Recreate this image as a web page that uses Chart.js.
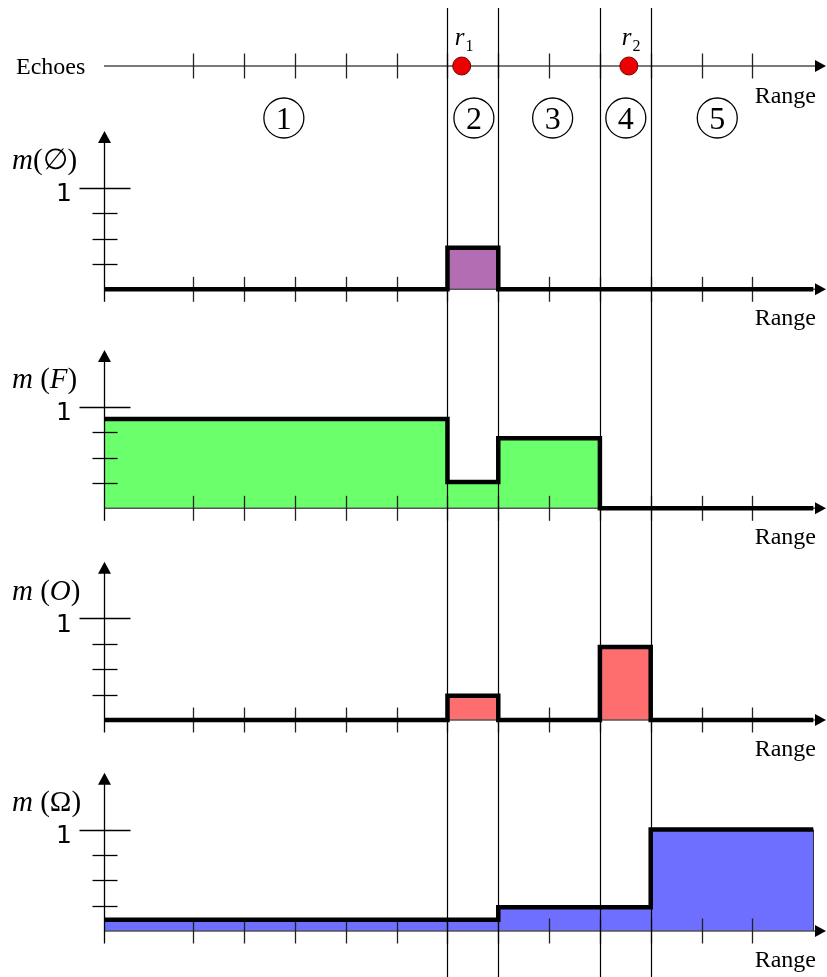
<!DOCTYPE html>
<html>
<head>
<meta charset="utf-8">
<script src="https://cdn.jsdelivr.net/npm/chart.js@4.4.1/dist/chart.umd.min.js"></script>
<style>
  html, body { margin: 0; padding: 0; background: #fff; }
  canvas { display: block; }
</style>
</head>
<body>
<canvas id="rangeChart" width="827" height="977"></canvas>
<script>
// Range axis (tick units). First edge is the origin, last edge is where the masses stop
const regionEdges = [0.24, 7, 8, 10, 11, 14.2];
const xTicks = [2, 3, 4, 5, 6, 7, 8, 9, 10, 11, 12, 13];
const regionLabels = ['1', '2', '3', '4', '5'];
const regionCentres = [3.78, 7.52, 9.07, 10.51, 12.31];
const echoNames = ['1', '2'];
const echoRanges = [7.28, 10.57];

// Mass of each hypothesis, one value per region
const massEmpty = [0, 0.41, 0, 0, 0];
const massF = [0.88, 0.26, 0.69, 0, 0];
const massO = [0, 0.24, 0, 0.72, 0];
const massOmega = [0.11, 0.11, 0.235, 0.235, 1.0];
const yTicks = [0.25, 0.5, 0.75, 1];

const H = 977;
const UNIT = 101.5;      // px per unit of mass
const Y_TOP = 1.56;      // where the y arrows stop
const SERIF = '"Liberation Serif", "DejaVu Serif", serif';

const panels = [
  { axis: 'yEmpty', base: 289.3, mass: massEmpty, colour: '#b36eb3',
    label: [{ t: 'm', it: true }, { t: '(∅)' }] },
  { axis: 'yF', base: 508.3, mass: massF, colour: '#6cff6c',
    label: [{ t: 'm', it: true }, { t: ' (' }, { t: 'F', it: true }, { t: ')' }] },
  { axis: 'yO', base: 720, mass: massO, colour: '#ff6e6e',
    label: [{ t: 'm', it: true }, { t: ' (' }, { t: 'O', it: true }, { t: ')' }] },
  { axis: 'yOmega', base: 931, mass: massOmega, colour: '#6e6eff',
    label: [{ t: 'm', it: true }, { t: ' (Ω)' }] }
];

// every panel gets its own y scale over the full height, shifted so 0 sits on its baseline
function yScale(base, unit) {
  const min = -(H - base) / unit;
  return { type: 'linear', display: false, min: min, max: min + H / unit };
}

function stepPoints(mass) {
  const pts = mass.map((m, i) => ({ x: regionEdges[i], y: m }));
  pts.push({ x: regionEdges[regionEdges.length - 1], y: mass[mass.length - 1] });
  return pts;
}

function line(ctx, x1, y1, x2, y2) {
  ctx.beginPath(); ctx.moveTo(x1, y1); ctx.lineTo(x2, y2); ctx.stroke();
}

function arrowRight(ctx, tipX, y) {
  ctx.beginPath();
  ctx.moveTo(tipX, y); ctx.lineTo(tipX - 11, y - 6); ctx.lineTo(tipX - 11, y + 6);
  ctx.closePath(); ctx.fill();
}

function arrowUp(ctx, x, tipY) {
  ctx.beginPath();
  ctx.moveTo(x, tipY); ctx.lineTo(x - 6.5, tipY + 12); ctx.lineTo(x + 6.5, tipY + 12);
  ctx.closePath(); ctx.fill();
}

function drawXAxis(ctx, xs, y, colour, width) {
  const x0 = xs.getPixelForValue(regionEdges[0]);
  const tip = xs.right;
  ctx.strokeStyle = colour; ctx.lineWidth = width;
  line(ctx, x0, y, tip - 9, y);
  ctx.fillStyle = '#000';
  arrowRight(ctx, tip, y);
  ctx.strokeStyle = '#222'; ctx.lineWidth = 1.3;
  xTicks.forEach(v => {
    const px = Math.round(xs.getPixelForValue(v)) + 0.5;
    line(ctx, px, y - 12.5, px, y + 12.5);
  });
}

function drawParts(ctx, parts, x, y, size) {
  parts.forEach(p => {
    ctx.font = (p.it ? 'italic ' : '') + size + 'px ' + SERIF;
    ctx.fillText(p.t, x, y);
    x += ctx.measureText(p.t).width;
  });
}

const figurePlugin = {
  id: 'figure',
  beforeDatasetsDraw(chart) {
    const ctx = chart.ctx;
    const xs = chart.scales.x;
    ctx.save();

    // echoes axis
    drawXAxis(ctx, xs, chart.scales.yEcho.getPixelForValue(0), '#7a7a7a', 2);

    panels.forEach(p => {
      const ys = chart.scales[p.axis];
      const y0 = ys.getPixelForValue(0);
      const x0 = Math.round(xs.getPixelForValue(regionEdges[0])) + 0.5;
      drawXAxis(ctx, xs, y0, '#555', 1.5);
      // y axis
      const top = ys.getPixelForValue(Y_TOP);
      ctx.strokeStyle = '#000'; ctx.lineWidth = 1.3;
      line(ctx, x0, y0 + 12.5, x0, top + 10);
      ctx.fillStyle = '#000';
      arrowUp(ctx, x0, top);
      yTicks.forEach(v => {
        const py = Math.round(ys.getPixelForValue(v)) + 0.5;
        if (v === 1) line(ctx, x0 - 25, py, x0 + 26, py);
        else line(ctx, x0 - 12, py, x0 + 13, py);
      });
    });

    // thin outline on the right edge of the last fill (Omega)
    const last = panels[panels.length - 1];
    const ysL = chart.scales[last.axis];
    const xe = Math.round(xs.getPixelForValue(regionEdges[regionEdges.length - 1])) + 0.5;
    ctx.strokeStyle = '#333'; ctx.lineWidth = 1;
    line(ctx, xe, ysL.getPixelForValue(0), xe, ysL.getPixelForValue(last.mass[last.mass.length - 1]));

    // region borders
    ctx.strokeStyle = '#000'; ctx.lineWidth = 1.2;
    regionEdges.slice(1, -1).forEach(v => {
      const px = Math.round(xs.getPixelForValue(v)) + 0.5;
      line(ctx, px, 8, px, H);
    });
    ctx.restore();
  },
  afterDraw(chart) {
    const ctx = chart.ctx;
    const xs = chart.scales.x;
    const x0 = xs.getPixelForValue(regionEdges[0]);
    const ey = chart.scales.yEcho.getPixelForValue(0);
    ctx.save();
    ctx.fillStyle = '#000';
    ctx.textBaseline = 'alphabetic';

    ctx.textAlign = 'left';
    ctx.font = '24px ' + SERIF;
    ctx.fillText('Echoes', 16, ey + 8);

    // echo names r1, r2
    echoRanges.forEach((v, i) => {
      const px = xs.getPixelForValue(v) - 7;
      ctx.font = 'italic 25px ' + SERIF;
      ctx.fillText('r', px, ey - 21);
      const w = ctx.measureText('r').width;
      ctx.font = '16px ' + SERIF;
      ctx.fillText(echoNames[i], px + w + 1, ey - 15);
    });

    // circled region numbers
    ctx.textAlign = 'center';
    ctx.lineWidth = 1.3; ctx.strokeStyle = '#000';
    regionLabels.forEach((t, i) => {
      const px = xs.getPixelForValue(regionCentres[i]);
      const py = ey + 52;
      ctx.beginPath(); ctx.arc(px, py, 20, 0, Math.PI * 2); ctx.stroke();
      ctx.font = '32px ' + SERIF;
      ctx.fillText(t, px, py + 11);
    });

    ctx.textAlign = 'right';
    ctx.font = '24px ' + SERIF;
    ctx.fillText('Range', 816, ey + 37);

    panels.forEach(p => {
      const ys = chart.scales[p.axis];
      const y0 = ys.getPixelForValue(0);
      ctx.textAlign = 'right';
      ctx.font = '24px ' + SERIF;
      ctx.fillText('Range', 816, y0 + 36);
      ctx.font = '25px "DejaVu Sans", sans-serif';
      ctx.fillText('1', x0 - 32, ys.getPixelForValue(1) + 13.5);
      ctx.textAlign = 'left';
      drawParts(ctx, p.label, 12, y0 - 120, 29);
    });
    ctx.restore();
  }
};

const datasets = panels.map(p => ({
  data: stepPoints(p.mass),
  yAxisID: p.axis,
  stepped: true,
  borderColor: '#000',
  borderWidth: 4.5,
  borderJoinStyle: 'miter',
  borderCapStyle: 'butt',
  backgroundColor: p.colour,
  fill: 'origin',
  pointRadius: 0,
  clip: false
}));

datasets.push({
  data: echoRanges.map(v => ({ x: v, y: 0 })),
  yAxisID: 'yEcho',
  showLine: false,
  pointRadius: 9,
  pointBackgroundColor: '#ee0000',
  pointBorderColor: '#700000',
  pointBorderWidth: 1,
  clip: false
});

const scales = {
  x: { type: 'linear', display: false, min: regionEdges[0], max: 14.45 },
  yEcho: yScale(66, 100)
};
panels.forEach(p => { scales[p.axis] = yScale(p.base, UNIT); });

new Chart(document.getElementById('rangeChart'), {
  type: 'line',
  data: { datasets: datasets },
  options: {
    responsive: false,
    animation: false,
    events: [],
    layout: { autoPadding: false, padding: { left: 104, right: 1, top: 0, bottom: 0 } },
    scales: scales,
    plugins: {
      legend: { display: false },
      tooltip: { enabled: false },
      filler: { drawTime: 'beforeDatasetsDraw' }
    }
  },
  plugins: [figurePlugin]
});
</script>
</body>
</html>
